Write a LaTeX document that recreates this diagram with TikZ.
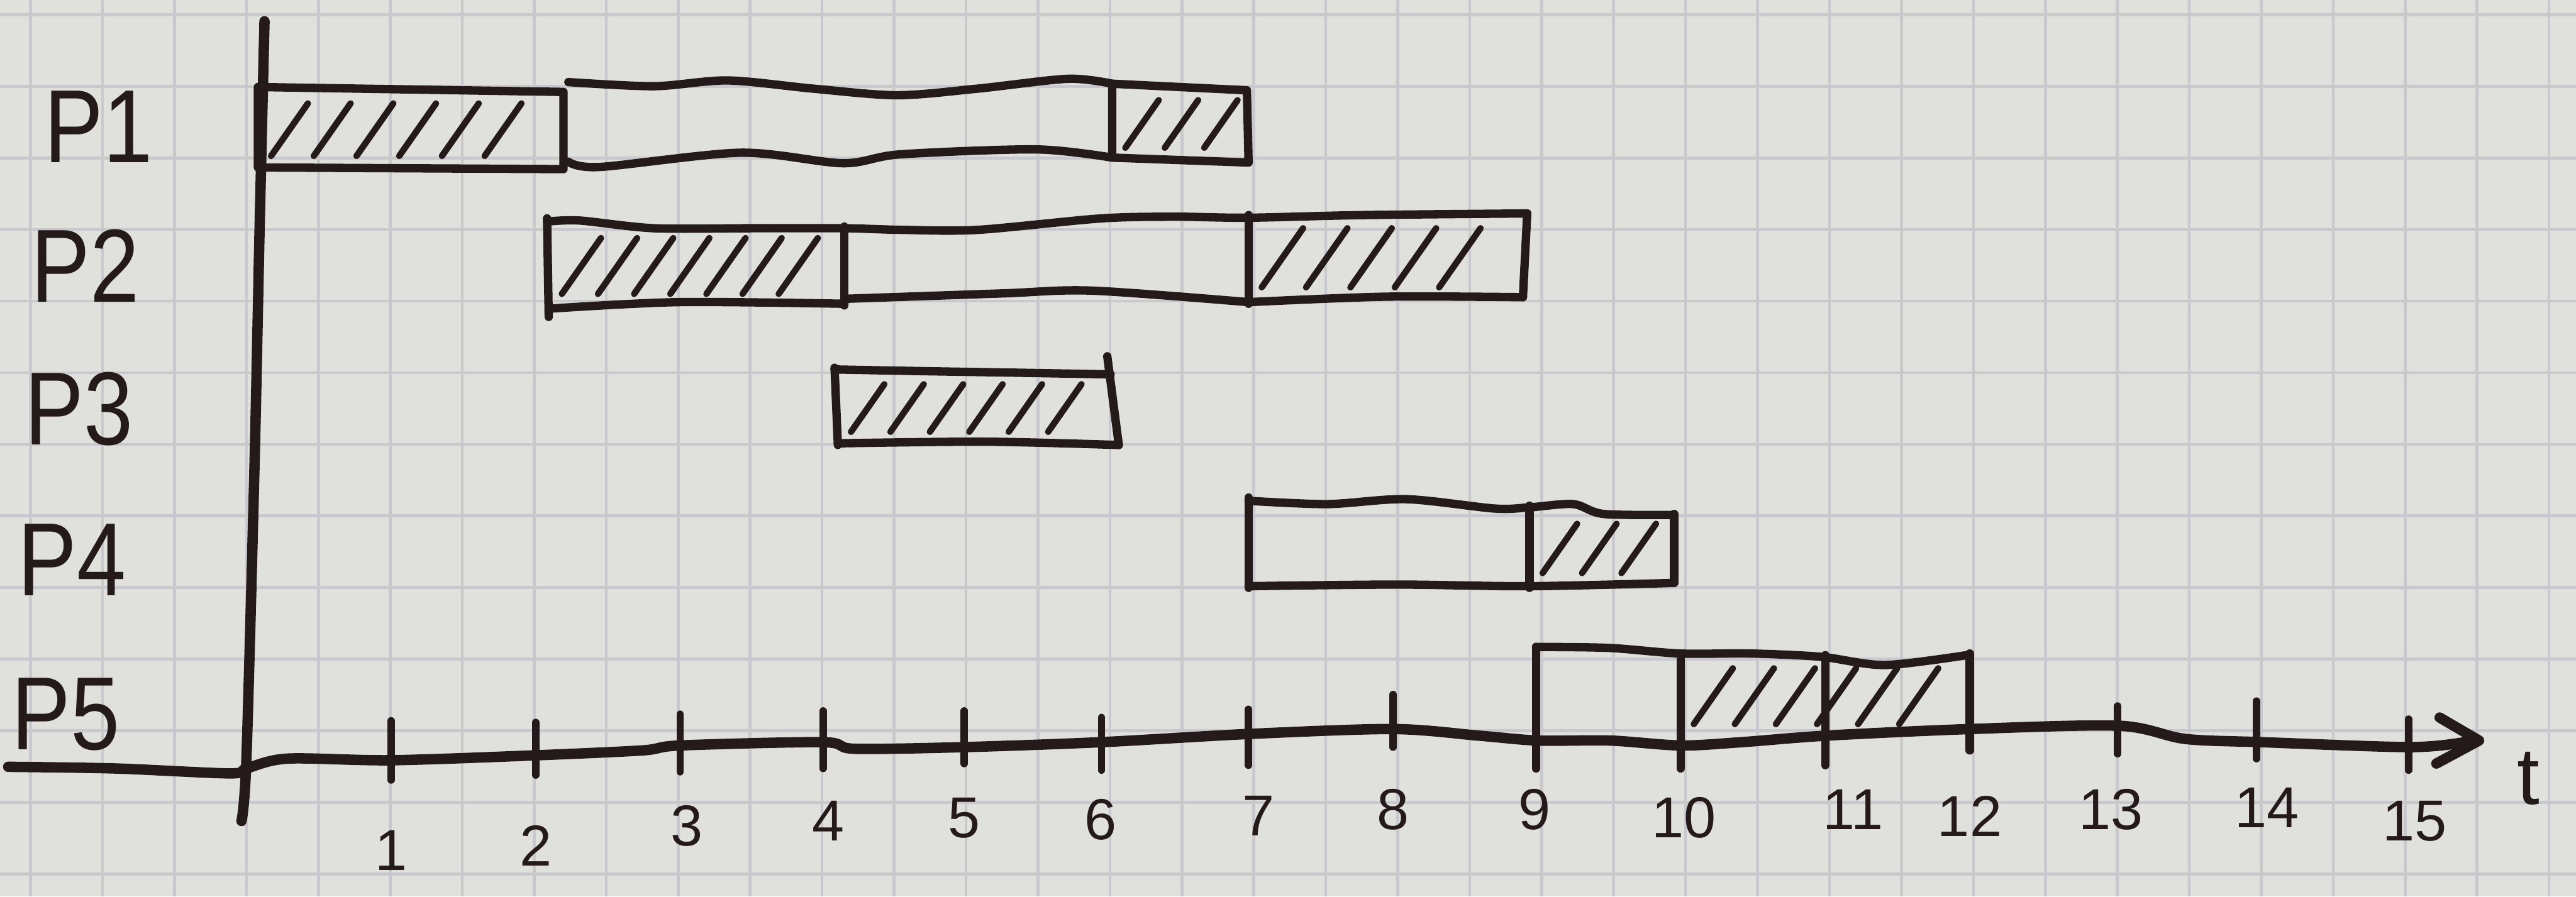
\documentclass[tikz,border=0pt]{standalone}
\usepackage{fontspec}
\setmainfont{Liberation Sans}
\definecolor{paper}{RGB}{224,224,221}
\definecolor{gridc}{RGB}{201,201,205}
\definecolor{ink}{RGB}{36,26,26}
\tikzset{
  gridline/.style={gridc, line width=0.5pt},
  barline/.style={ink, line width=1.45pt, line cap=round, line join=round},
  hatchline/.style={ink, line width=1.1pt, line cap=round},
  axisline/.style={ink, line width=1.8pt, line cap=round, line join=round},
  tickline/.style={ink, line width=1.3pt, line cap=round},
  plabel/.style={text=ink, font=\fontsize{18}{18}\selectfont, inner sep=0pt, xscale=0.85},
  ticklabel/.style={text=ink, font=\fontsize{10}{10}\selectfont, inner sep=0pt},
  tlabel/.style={text=ink, font=\fontsize{14}{14}\selectfont, inner sep=0pt},
}
\newcommand{\hatchbox}[5]{%
  \pgfmathsetmacro{\hbh}{#4-#3-14}%
  \pgfmathsetmacro{\hbdx}{0.7*\hbh}%
  \pgfmathsetmacro{\hbxs}{#1+8}%
  \pgfmathsetmacro{\hbxt}{#1+8+#5}%
  \pgfmathsetmacro{\hbxe}{#2-\hbdx-5}%
  \pgfmathsetmacro{\hbyb}{#4-7}%
  \foreach \hx in {\hbxs,\hbxt,...,\hbxe}{\draw[hatchline] (\hx,\hbyb) -- ++(\hbdx,-\hbh);}%
}
\begin{document}
\begin{tikzpicture}[x=0.01cm,y=-0.01cm]
\fill[paper] (0,0) rectangle (1568,546);
\useasboundingbox (0,0) rectangle (1568,546);
% graph paper
\foreach \i in {-3,...,32} \draw[gridline] ({150+43.8*\i},0) -- ({150+43.8*\i},546);
\foreach \j in {0,...,12} \draw[gridline] (0,{9+43.6*\j}) -- (1568,{9+43.6*\j});

% axes
\draw[axisline] plot[smooth] coordinates {(161,13) (158,140) (155,280) (150,462) (147,500)};
\draw[axisline] plot[smooth] coordinates {(5,467) (70,468) (140,471) (150,468) (175,462) (238,463) (326,460) (391,457) (414,454) (501,452) (520,456) (587,455) (670,452) (760,447) (848,444) (900,448) (936,451) (980,451) (1023,454) (1060,452) (1112,448) (1199,444) (1290,442) (1330,450) (1377,452) (1467,455) (1500,452)};
\draw[axisline] (1485,437) -- (1509,451) -- (1483,465);

% ticks
\foreach \x/\a/\b in {238/439/475, 326/440/472, 414/435/470, 501/433/468, 587/433/465, 670.5/437/469, 760/432/466, 848/423/455, 1289/430/459, 1373.5/427/462, 1466/438/469}
  \draw[tickline] (\x,\a) -- (\x,\b);

% P1
\draw[barline] (157,53) -- (343,56) -- (343,103) -- (157,102) -- cycle;
\draw[barline] plot[smooth] coordinates {(346,50) (398,52.5) (443,49) (495,54) (546,58) (595,54) (650,48) (677,51)};
\draw[barline] plot[smooth] coordinates {(346,98.5) (365,101.7) (451,93) (513,99.4) (548,94) (631,91) (677,96)};
\draw[barline] (677,51) -- (759,55) -- (760,99) -- (677,96) -- cycle;
\hatchbox{157}{343}{56}{102}{26}
\hatchbox{677}{760}{54}{97}{24}

% P2
\draw[barline] plot[smooth] coordinates {(333,135) (352.7,134.3) (398,139) (458.5,139) (513,139) (549.6,140) (595,140) (670.5,133) (716,132) (760,132.6) (829,131) (929.6,130)};
\draw[barline] plot[smooth] coordinates {(334,188) (413,184) (514,185)};
\draw[barline] plot[smooth] coordinates {(514,182) (610,178.7) (664.6,177) (760,184)};
\draw[barline] plot[smooth] coordinates {(760,184) (843,180.7) (927,181)};
\draw[barline] (333,133) -- (334,193);
\draw[barline] (514,138) -- (514,186);
\draw[barline] (760,131) -- (760,185);
\draw[barline] (929.6,130) -- (927,181);
\hatchbox{334}{514}{138}{186}{22}
\hatchbox{760}{928}{132}{182}{27}

% P3
\draw[barline] plot[smooth] coordinates {(508,225) (560,226) (620,227) (676,228)};
\draw[barline] plot[smooth] coordinates {(510,270) (600,269) (681,271)};
\draw[barline] (508,224) -- (510,271);
\draw[barline] (674,217) -- (681,271);
\hatchbox{510}{678}{227}{270}{24}

% P4
\draw[barline] plot[smooth] coordinates {(760,305) (808,307) (856,304) (909.6,309.7) (931,309) (957.6,307) (976,313) (1019,313.6)};
\draw[barline] plot[smooth] coordinates {(760,357) (850,356) (931,357) (1019,355)};
\draw[barline] (760,303) -- (760,358);
\draw[barline] (931,308) -- (931,358);
\draw[barline] (1019,313) -- (1019,355);
\hatchbox{931}{1019}{312}{356}{24}

% P5
\draw[barline] plot[smooth] coordinates {(935,394) (979.6,394.6) (1022.6,398) (1065.7,398) (1108.6,400) (1147.5,405) (1199,398.7)};
\draw[barline] (935,394) -- (935,468);
\draw[barline] (1023,398) -- (1023,468);
\draw[barline] (1111,399) -- (1111,466);
\draw[barline] (1199,398) -- (1199,457);
\hatchbox{1023}{1199}{400}{448}{25}

% process labels
\node[plabel] (p1) at (60,77) {P1};
\node[plabel] (p2) at (52,162) {P2};
\node[plabel] (p3) at (48,249) {P3};
\node[plabel] (p4) at (44,341) {P4};
\node[plabel] (p5) at (40,435) {P5};

% tick labels
\node[ticklabel] (l1) at (238,518) {1};
\node[ticklabel] (l2) at (326,515) {2};
\node[ticklabel] (l3) at (418,503) {3};
\node[ticklabel] (l4) at (504,500) {4};
\node[ticklabel] (l5) at (587,498) {5};
\node[ticklabel] (l6) at (670,499) {6};
\node[ticklabel] (l7) at (766,497) {7};
\node[ticklabel] (l8) at (848,493) {8};
\node[ticklabel] (l9) at (934,493) {9};
\node[ticklabel] (l10) at (1025,498) {10};
\node[ticklabel] (l11) at (1128,493) {11};
\node[ticklabel] (l12) at (1199,497) {12};
\node[ticklabel] (l13) at (1285,493) {13};
\node[ticklabel] (l14) at (1380,492) {14};
\node[ticklabel] (l15) at (1470,500) {15};
\node[tlabel] (t) at (1539,474) {t};
\end{tikzpicture}
\end{document}
